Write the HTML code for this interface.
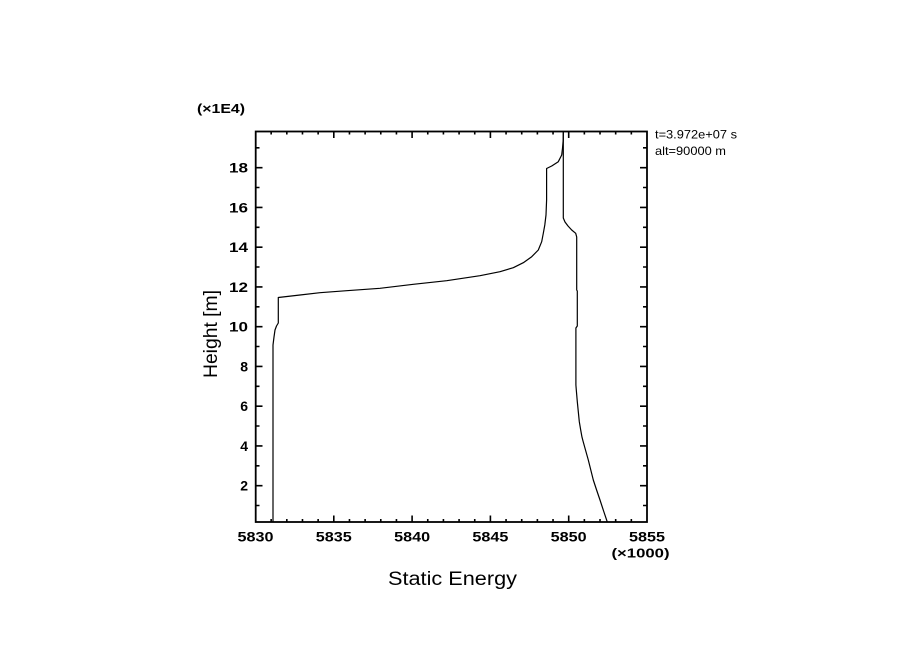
<!DOCTYPE html>
<html>
<head>
<meta charset="utf-8">
<style>
  html, body { margin:0; padding:0; background:#fff; }
  svg { display:block; }
  .tl { font-family:"Liberation Sans", sans-serif; font-weight:bold; font-size:14px; fill:#000; }
</style>
</head>
<body>
<svg width="904" height="654" viewBox="0 0 904 654" xmlns="http://www.w3.org/2000/svg">
  <rect x="0" y="0" width="904" height="654" fill="#fff"/>

  <!-- frame -->
  <rect x="255.7" y="131.5" width="391.3" height="390.5" fill="none" stroke="#000" stroke-width="1.8"/>

  <!-- left & right axis ticks -->
  <path stroke="#000" stroke-width="1.6" fill="none" d="
    M255.5 505.5h4 M255.5 485.65h7 M255.5 465.8h4 M255.5 445.9h7 M255.5 426h4
    M255.5 406.15h7 M255.5 386.3h4 M255.5 366.4h7 M255.5 346.5h4 M255.5 326.65h7
    M255.5 306.8h4 M255.5 286.9h7 M255.5 267h4 M255.5 247.15h7 M255.5 227.3h4
    M255.5 207.4h7 M255.5 187.5h4 M255.5 167.65h7 M255.5 147.8h4
    M647 505.5h-4 M647 485.65h-7 M647 465.8h-4 M647 445.9h-7 M647 426h-4
    M647 406.15h-7 M647 386.3h-4 M647 366.4h-7 M647 346.5h-4 M647 326.65h-7
    M647 306.8h-4 M647 286.9h-7 M647 267h-4 M647 247.15h-7 M647 227.3h-4
    M647 207.4h-7 M647 187.5h-4 M647 167.65h-7 M647 147.8h-4"/>

  <!-- bottom & top axis ticks -->
  <path stroke="#000" stroke-width="1.6" fill="none" d="
    M271.16 522v-3 M286.82 522v-3 M302.48 522v-3 M318.14 522v-3 M333.8 522v-6.5
    M349.46 522v-3 M365.12 522v-3 M380.78 522v-3 M396.44 522v-3 M412.1 522v-6.5
    M427.76 522v-3 M443.42 522v-3 M459.08 522v-3 M474.74 522v-3 M490.4 522v-6.5
    M506.06 522v-3 M521.72 522v-3 M537.38 522v-3 M553.04 522v-3 M568.7 522v-6.5
    M584.36 522v-3 M600.02 522v-3 M615.68 522v-3 M631.34 522v-3
    M271.16 131.5v3 M286.82 131.5v3 M302.48 131.5v3 M318.14 131.5v3 M333.8 131.5v6.5
    M349.46 131.5v3 M365.12 131.5v3 M380.78 131.5v3 M396.44 131.5v3 M412.1 131.5v6.5
    M427.76 131.5v3 M443.42 131.5v3 M459.08 131.5v3 M474.74 131.5v3 M490.4 131.5v6.5
    M506.06 131.5v3 M521.72 131.5v3 M537.38 131.5v3 M553.04 131.5v3 M568.7 131.5v6.5
    M584.36 131.5v3 M600.02 131.5v3 M615.68 131.5v3 M631.34 131.5v3"/>

  <!-- curve A (left) -->
  <polyline fill="none" stroke="#000" stroke-width="1.2" stroke-linejoin="round" points="
    273,522 273,345 274,337 275,330 276.5,326 278.3,323 278.3,297.5
    300,295 320,292.7 346.7,290.7 380,288.3 413.3,284.3 446.7,280.7 480,275.7
    500,271.7 513.3,267.7 523.3,262.7 531.7,256.7 538.3,250 541.7,241.7 543.3,233.3
    544.8,225 546,215 546.6,200 546.6,168.5 551.7,166 558.3,161.7 561.7,155
    562.5,148.3 563.2,140 563.3,132"/>

  <!-- curve B (right) -->
  <polyline fill="none" stroke="#000" stroke-width="1.2" stroke-linejoin="round" points="
    563.3,132 563.3,218 565,222 568,226 571.7,230 575.7,233.3 576.7,237
    576.7,290 577.3,291 577.3,326 575.9,328 575.9,385 576.3,390 577.3,401.7
    578.3,411.7 579.3,421.7 580.7,430 581.9,436.7 583,441 585.5,450 588.3,460
    590.8,470 593.3,480 596.6,490 600,500 603.6,511 607.3,522"/>

  <!-- y tick labels -->
  <g class="tl" text-anchor="end">
    <text x="248" y="490.6">2</text>
    <text x="248" y="450.9">4</text>
    <text x="248" y="411.1">6</text>
    <text x="248" y="371.4">8</text>
    <text x="248" y="331.6" textLength="19" lengthAdjust="spacingAndGlyphs">10</text>
    <text x="248" y="291.9" textLength="19" lengthAdjust="spacingAndGlyphs">12</text>
    <text x="248" y="252.1" textLength="19" lengthAdjust="spacingAndGlyphs">14</text>
    <text x="248" y="212.4" textLength="19" lengthAdjust="spacingAndGlyphs">16</text>
    <text x="248" y="172.6" textLength="19" lengthAdjust="spacingAndGlyphs">18</text>
  </g>

  <!-- x tick labels -->
  <g class="tl">
    <text x="237.5" y="541.7" textLength="36" lengthAdjust="spacingAndGlyphs">5830</text>
    <text x="315.8" y="541.7" textLength="36" lengthAdjust="spacingAndGlyphs">5835</text>
    <text x="394.1" y="541.7" textLength="36" lengthAdjust="spacingAndGlyphs">5840</text>
    <text x="472.4" y="541.7" textLength="36" lengthAdjust="spacingAndGlyphs">5845</text>
    <text x="550.7" y="541.7" textLength="36" lengthAdjust="spacingAndGlyphs">5850</text>
    <text x="629" y="541.7" textLength="36" lengthAdjust="spacingAndGlyphs">5855</text>
  </g>

  <!-- scale factors -->
  <text x="611.5" y="557.5" font-family="Liberation Sans, sans-serif" font-weight="bold" font-size="13" textLength="58" lengthAdjust="spacingAndGlyphs">(×1000)</text>
  <text x="197" y="113" font-family="Liberation Sans, sans-serif" font-weight="bold" font-size="12.5" textLength="48" lengthAdjust="spacingAndGlyphs">(×1E4)</text>

  <!-- axis titles -->
  <text x="388" y="585" font-family="Liberation Sans, sans-serif" font-size="19" textLength="129" lengthAdjust="spacingAndGlyphs">Static Energy</text>
  <text transform="translate(217,334) rotate(-90)" text-anchor="middle" font-family="Liberation Sans, sans-serif" font-size="19" textLength="88" lengthAdjust="spacingAndGlyphs">Height [m]</text>

  <!-- annotations -->
  <text x="655" y="138.3" font-family="Liberation Sans, sans-serif" font-size="12" textLength="82" lengthAdjust="spacingAndGlyphs">t=3.972e+07 s</text>
  <text x="655" y="155" font-family="Liberation Sans, sans-serif" font-size="12" textLength="71" lengthAdjust="spacingAndGlyphs">alt=90000 m</text>
</svg>
</body>
</html>
